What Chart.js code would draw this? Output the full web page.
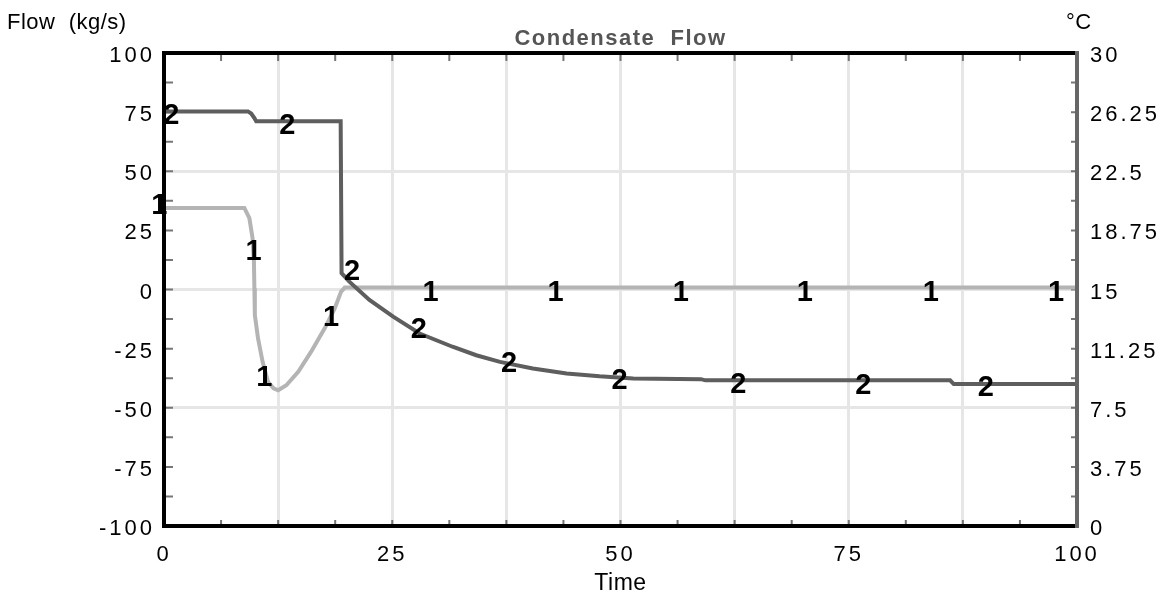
<!DOCTYPE html>
<html>
<head>
<meta charset="utf-8">
<title>Condensate Flow</title>
<script src="https://cdn.jsdelivr.net/npm/chart.js@4.4.1/dist/chart.umd.min.js"></script>
<style>
  html, body { margin: 0; padding: 0; background: #fff; }
  #chart { display: block; }
</style>
</head>
<body>
<canvas id="chart" width="1163" height="596"></canvas>
<script>
// Values (time, flow in kg/s)
const s1Time = [0, 8.8, 9.35, 9.7, 9.85, 9.9, 9.95, 10.3, 10.8, 11.4, 12.0, 12.5, 13.4, 14.7, 16.1, 17.6, 18.7, 19.4, 19.8, 100];
const s1Flow = [34.5, 34.5, 30.2, 21.7, 11.8, 0.5, -10.8, -20.7, -30.6, -39.1, -41.8, -42.6, -40.5, -34.8, -26.4, -16.4, -8.0, -0.9, 0.8, 0.8];

const s2Time = [0, 9.2, 9.55, 9.9, 10.1, 19.35, 19.45, 20.3, 22.5, 25.1, 28.0, 31.6, 34.2, 36.8, 40.4, 44.1, 47.7, 51.4, 58.8, 59.3, 86.1, 86.5, 100];
const s2Flow = [75.3, 75.3, 74.4, 72.5, 71.1, 71.1, 6.9, 3.3, -4.4, -11.5, -18.6, -24.2, -27.8, -30.6, -33.4, -35.5, -36.7, -37.6, -37.9, -38.4, -38.4, -40, -40];

// curve id markers ("1" / "2") drawn on the lines
const m1Time = [-0.5, 9.8, 11.0, 18.3, 29.2, 42.9, 56.6, 70.2, 84.0, 97.7];
const m1Flow = [35.4, 15.7, -37.3, -12.1, -1.4, -1.4, -1.4, -1.4, -1.4, -1.4];
const m2Time = [0.8, 13.5, 20.6, 27.9, 37.8, 49.9, 62.9, 76.6, 90.0];
const m2Flow = [73.5, 69.3, 7.2, -17.3, -31.6, -38.8, -40.5, -40.9, -41.5];

// axes
const timeGrid = [0, 12.5, 25, 37.5, 50, 62.5, 75, 87.5, 100];
const timeLabels = [0, 25, 50, 75, 100];
const timeMinor = [6.25, 12.5, 18.75, 25, 31.25, 37.5, 43.75, 50, 56.25, 62.5, 68.75, 75, 81.25, 87.5, 93.75];
const flowTicks = [-100, -75, -50, -25, 0, 25, 50, 75, 100];
const flowGrid = [-50, 0, 50];
const flowMinor = [-87.5, -75, -62.5, -50, -37.5, -25, -12.5, 0, 12.5, 25, 37.5, 50, 62.5, 75, 87.5];
const tempTicks = [0, 3.75, 7.5, 11.25, 15, 18.75, 22.5, 26.25, 30];
const tempMinor = [1.875, 3.75, 5.625, 7.5, 9.375, 11.25, 13.125, 15, 16.875, 18.75, 20.625, 22.5, 24.375, 26.25, 28.125];

const FONT = '"Liberation Sans", Arial, sans-serif';
const tickFont = { family: FONT, size: 22 };
const toPoints = (xs, ys) => xs.map((x, i) => ({ x: x, y: ys[i] }));
const setTicks = arr => scale => { scale.ticks = arr.map(v => ({ value: v })); };

const framePlugin = {
  id: 'frame',
  beforeDraw(chart) {
    // spaced digits on the tick labels
    chart.ctx.letterSpacing = '3px';
  },
  beforeDatasetsDraw(chart) {
    const { ctx, chartArea: a, scales } = chart;
    ctx.save();
    ctx.strokeStyle = '#777';
    ctx.lineWidth = 2;
    ctx.beginPath();
    timeMinor.forEach(v => {
      const x = scales.x.getPixelForValue(v);
      ctx.moveTo(x, a.top); ctx.lineTo(x, a.top + 8);
      ctx.moveTo(x, a.bottom); ctx.lineTo(x, a.bottom - 6);
    });
    flowMinor.forEach(v => {
      const y = scales.y.getPixelForValue(v);
      ctx.moveTo(a.left, y); ctx.lineTo(a.left + 9, y);
    });
    tempMinor.forEach(v => {
      const y = scales.y2.getPixelForValue(v);
      ctx.moveTo(a.right, y); ctx.lineTo(a.right - 6, y);
    });
    ctx.stroke();
    ctx.restore();
  },
  afterDatasetsDraw(chart) {
    const { ctx, chartArea: a, scales } = chart;
    ctx.save();
    // frame
    ctx.lineWidth = 4;
    ctx.strokeStyle = '#000';
    ctx.beginPath();
    ctx.moveTo(a.right, a.top); ctx.lineTo(a.left, a.top);
    ctx.lineTo(a.left, a.bottom); ctx.lineTo(a.right, a.bottom);
    ctx.stroke();
    ctx.strokeStyle = '#666';
    ctx.beginPath();
    ctx.moveTo(a.right, a.top - 2); ctx.lineTo(a.right, a.bottom + 2);
    ctx.stroke();

    // curve markers
    ctx.letterSpacing = '0px';
    ctx.fillStyle = '#000';
    ctx.font = 'bold 29px ' + FONT;
    ctx.textAlign = 'center';
    ctx.textBaseline = 'middle';
    m1Time.forEach((t, i) => ctx.fillText('1', scales.x.getPixelForValue(t), scales.y.getPixelForValue(m1Flow[i])));
    m2Time.forEach((t, i) => ctx.fillText('2', scales.x.getPixelForValue(t), scales.y.getPixelForValue(m2Flow[i])));
    ctx.restore();
  },
  afterDraw(chart) {
    const { ctx, chartArea: a } = chart;
    const cx = (a.left + a.right) / 2;
    ctx.save();
    ctx.textBaseline = 'alphabetic';
    ctx.fillStyle = '#000';
    ctx.letterSpacing = '0.5px';
    ctx.font = '22px ' + FONT;
    ctx.textAlign = 'left';
    ctx.fillText('Flow  (kg/s)', 7, 28.5);
    ctx.fillText('°C', 1066, 28.5);
    ctx.textAlign = 'center';
    ctx.font = '23px ' + FONT;
    ctx.fillText('Time', cx, 590);
    ctx.letterSpacing = '1.5px';
    ctx.fillStyle = '#555';
    ctx.font = 'bold 22px ' + FONT;
    ctx.fillText('Condensate  Flow', cx, 45);
    ctx.restore();
  }
};

new Chart(document.getElementById('chart'), {
  type: 'line',
  data: {
    datasets: [
      {
        label: '2',
        data: toPoints(s2Time, s2Flow),
        borderColor: '#5e5e5e',
        borderWidth: 4,
        pointRadius: 0,
        tension: 0,
        yAxisID: 'y'
      },
      {
        label: '1',
        data: toPoints(s1Time, s1Flow),
        borderColor: '#b4b4b4',
        borderWidth: 4,
        pointRadius: 0,
        tension: 0,
        yAxisID: 'y'
      }
    ]
  },
  options: {
    responsive: false,
    animation: false,
    events: [],
    layout: { padding: { top: 53 } },
    plugins: {
      legend: { display: false },
      title: { display: false },
      tooltip: { enabled: false }
    },
    scales: {
      x: {
        type: 'linear',
        min: 0,
        max: 100,
        afterBuildTicks: setTicks(timeGrid),
        afterFit: s => { s.height = 70; },
        ticks: {
          font: tickFont,
          color: '#000',
          padding: 16,
          maxRotation: 0,
          autoSkip: false,
          callback: v => timeLabels.includes(v) ? String(v) : ''
        },
        grid: { color: '#e6e6e6', lineWidth: 3, drawTicks: false },
        border: { display: false }
      },
      y: {
        position: 'left',
        min: -100,
        max: 100,
        afterBuildTicks: setTicks(flowTicks),
        afterFit: s => { s.width = 164; },
        ticks: {
          font: tickFont,
          color: '#000',
          padding: 9,
          labelOffset: 3,
          autoSkip: false,
          callback: v => String(v)
        },
        grid: {
          color: c => flowGrid.includes(c.tick.value) ? '#e6e6e6' : 'rgba(0,0,0,0)',
          lineWidth: 3,
          drawTicks: false
        },
        border: { display: false }
      },
      y2: {
        position: 'right',
        min: 0,
        max: 30,
        afterBuildTicks: setTicks(tempTicks),
        afterFit: s => { s.width = 86; },
        ticks: {
          font: tickFont,
          color: '#000',
          padding: 5,
          labelOffset: 3,
          autoSkip: false,
          callback: v => String(v)
        },
        grid: { display: false },
        border: { display: false }
      }
    }
  },
  plugins: [framePlugin]
});
</script>
</body>
</html>
